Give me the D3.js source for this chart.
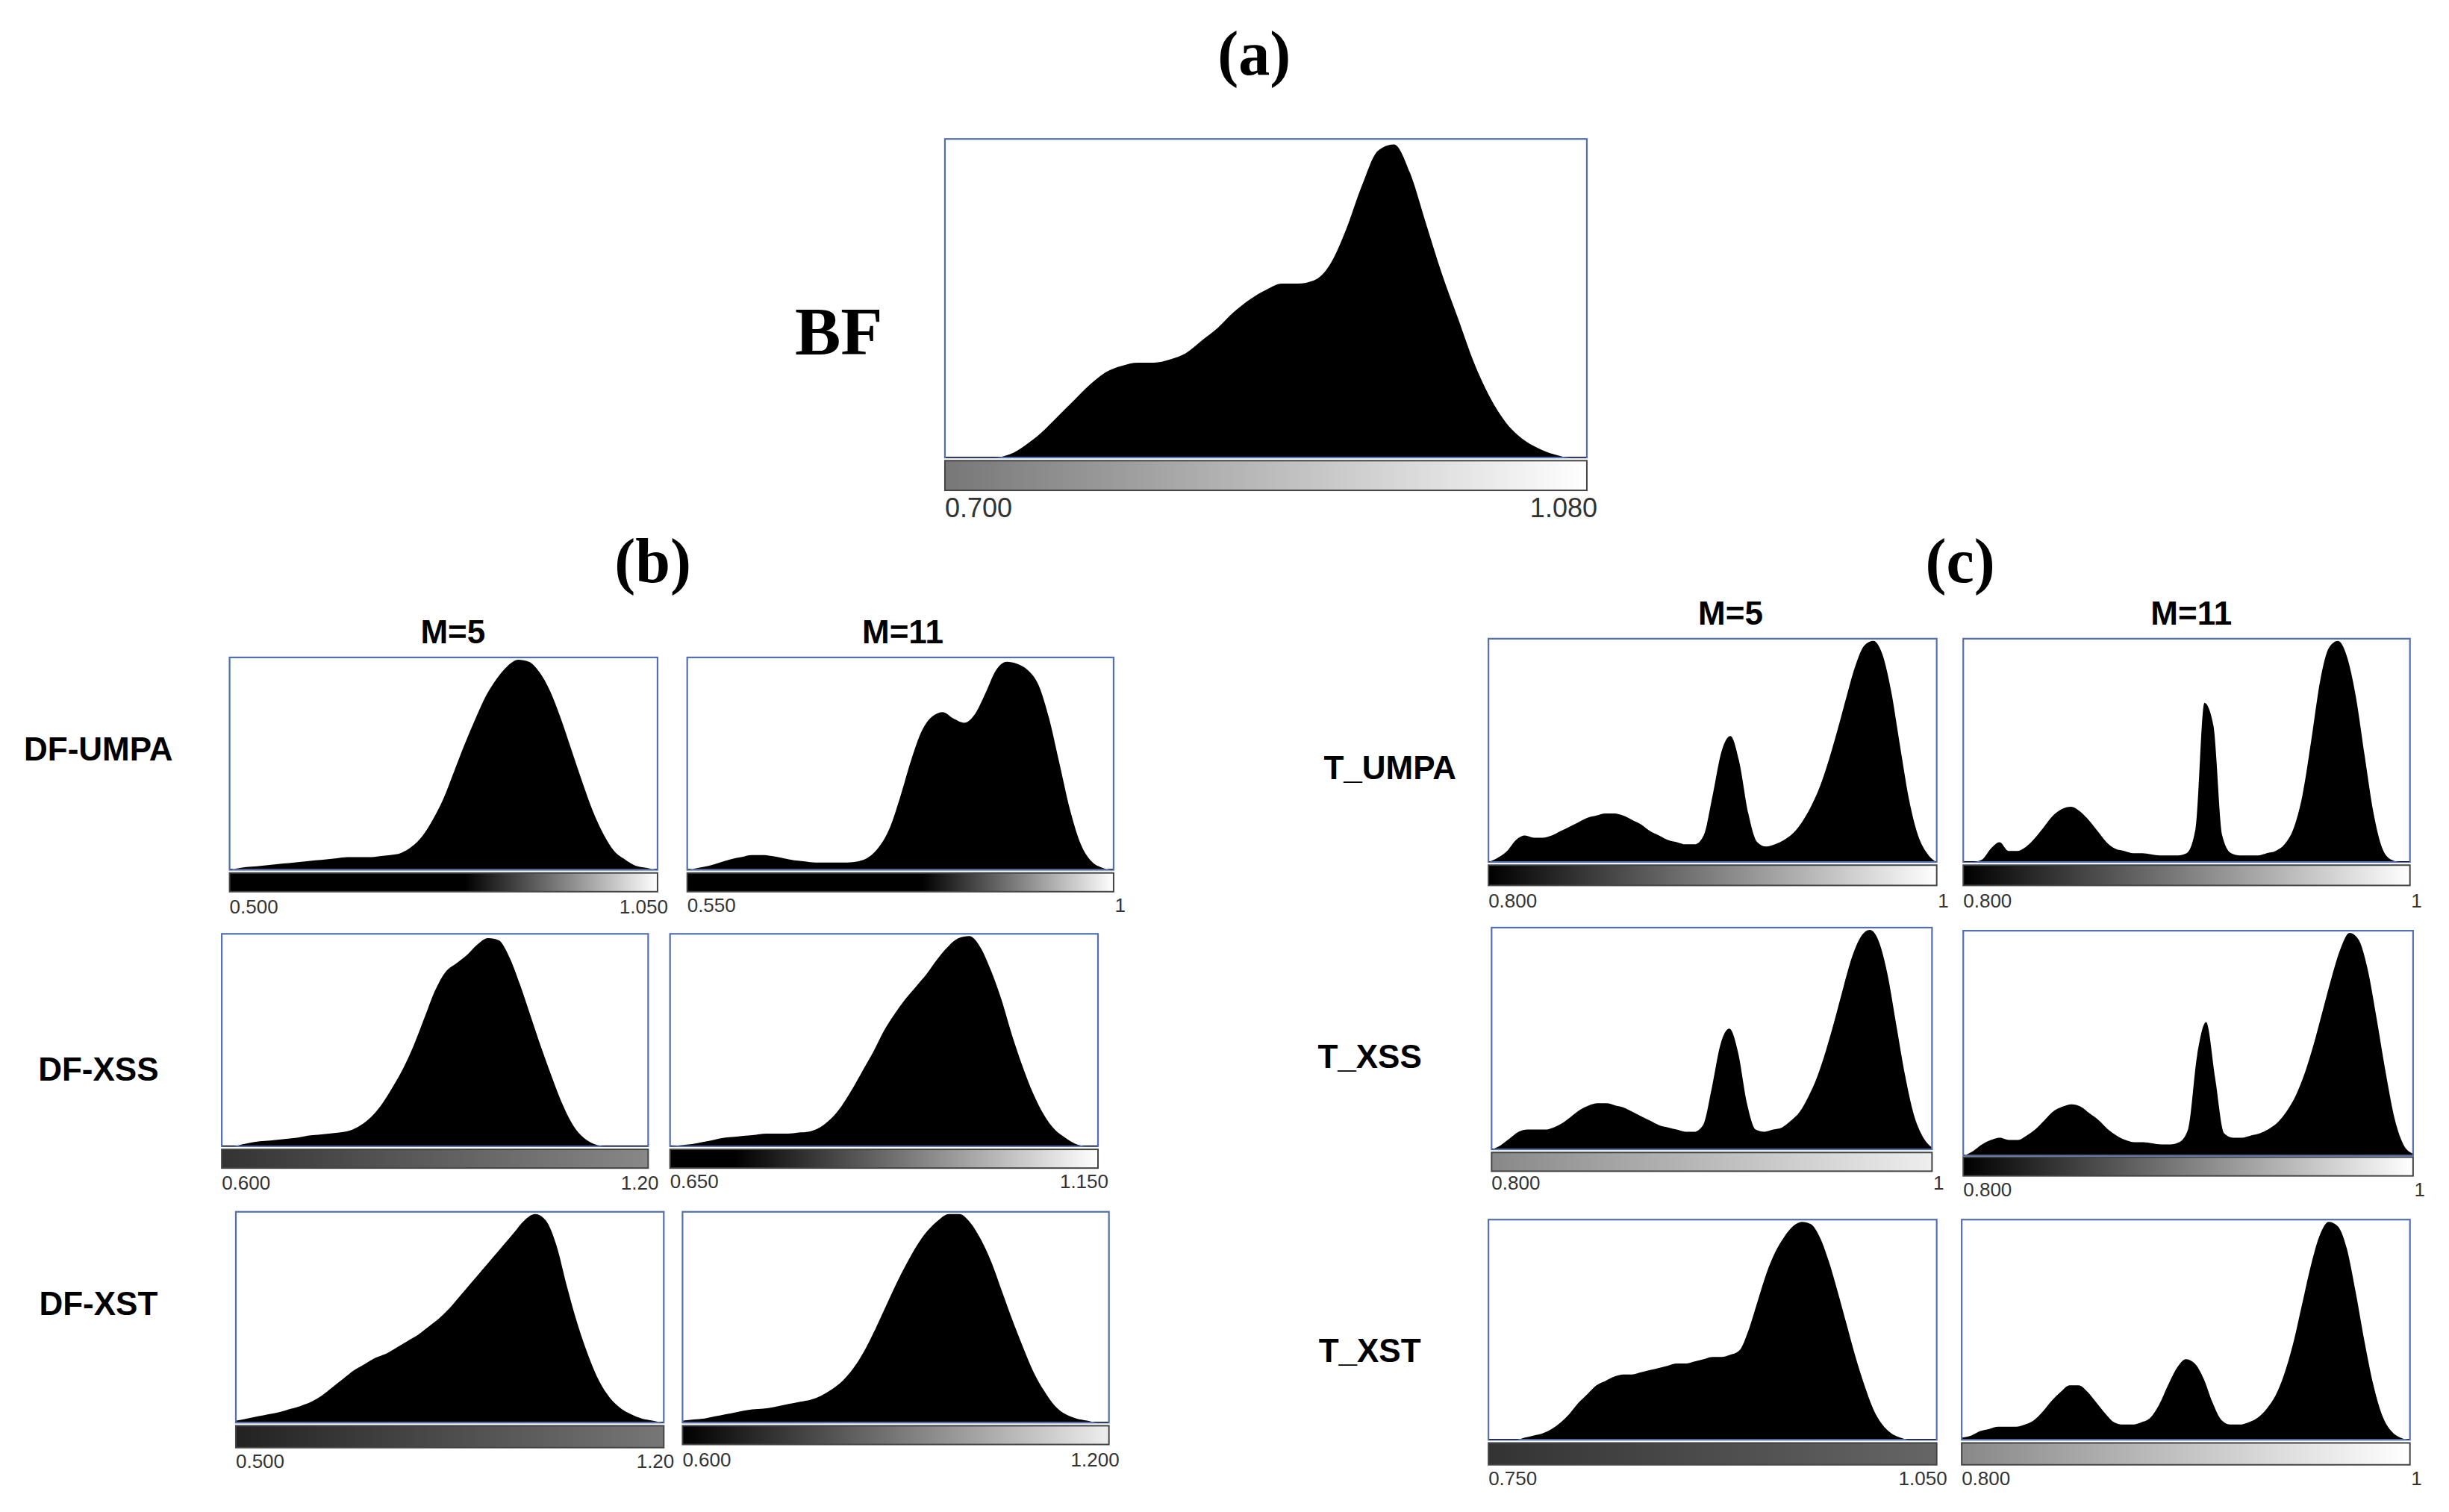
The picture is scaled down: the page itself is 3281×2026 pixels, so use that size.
<!DOCTYPE html>
<html><head><meta charset="utf-8">
<script src="https://cdn.jsdelivr.net/npm/d3@7"></script>
<style>body{margin:0;background:#fff}</style></head>
<body><svg id="c" width="3281" height="2026"></svg>
<script>
// ---- data (normalized histogram heights, evenly spaced across each colour range) ----
const bf = [0,0,0,0,.01,.04,.08,.13,.18,.23,.27,.29,.3,.3,.31,.33,.37,.41,.46,.5,.53,.55,.55,.56,.61,.72,.86,.97,.99,.9,.74,.58,.44,.3,.19,.11,.06,.03,.01,0,0];
const dfUmpa5 = [0,.01,.015,.02,.025,.03,.035,.04,.045,.05,.055,.06,.06,.06,.065,.07,.08,.11,.16,.24,.34,.47,.6,.72,.83,.91,.97,1,.99,.94,.85,.72,.57,.42,.28,.17,.09,.05,.02,.01,0];
const dfUmpa11 = [0,.01,.02,.035,.05,.06,.07,.07,.065,.055,.045,.04,.035,.035,.035,.035,.04,.06,.11,.2,.35,.52,.66,.73,.75,.72,.7,.74,.84,.95,.99,.98,.95,.88,.72,.5,.28,.12,.04,.01,0];
const dfXss5 = [0,0,.01,.02,.025,.03,.035,.04,.05,.055,.06,.065,.075,.1,.14,.2,.28,.37,.48,.61,.74,.83,.87,.91,.96,.99,.98,.9,.77,.62,.47,.33,.2,.1,.04,.01,0,0,0,0,0];
const dfXss11 = [0,.005,.01,.02,.03,.04,.045,.05,.055,.06,.06,.06,.065,.07,.09,.13,.19,.27,.36,.45,.55,.63,.7,.76,.82,.89,.95,.99,1,.95,.84,.7,.53,.38,.25,.15,.08,.04,.01,0,0];
const dfXst5 = [.01,.02,.03,.04,.05,.065,.08,.1,.13,.17,.21,.25,.28,.31,.33,.36,.39,.42,.46,.5,.55,.61,.67,.73,.79,.85,.91,.97,1,.97,.85,.65,.47,.32,.2,.12,.07,.04,.02,.01,0];
const dfXst11 = [.01,.015,.02,.03,.04,.05,.06,.065,.07,.08,.09,.1,.11,.13,.16,.2,.26,.34,.44,.55,.66,.76,.85,.92,.97,1,1,.96,.88,.77,.63,.49,.36,.24,.15,.08,.04,.02,.01,0,0];
const tUmpa5 = [0,.02,.05,.1,.12,.11,.11,.12,.14,.16,.18,.2,.21,.22,.22,.21,.19,.17,.14,.12,.1,.09,.08,.08,.12,.3,.5,.57,.45,.22,.09,.07,.08,.1,.13,.18,.25,.34,.46,.6,.75,.89,.98,1,.94,.77,.52,.28,.12,.04,0];
const tUmpa11 = [0,0,.01,.06,.09,.05,.05,.07,.11,.16,.21,.24,.25,.23,.19,.14,.09,.06,.05,.04,.04,.035,.03,.03,.03,.04,.15,.72,.62,.12,.04,.03,.03,.03,.04,.05,.08,.15,.3,.55,.82,.97,1,.93,.75,.48,.22,.06,.01,0,0];
const tXss5 = [0,.02,.05,.08,.09,.09,.09,.1,.12,.15,.18,.2,.21,.21,.2,.19,.17,.15,.13,.11,.1,.09,.08,.08,.11,.28,.48,.55,.44,.21,.09,.08,.09,.1,.13,.17,.24,.33,.45,.59,.74,.88,.97,1,.95,.8,.57,.34,.16,.06,.01];
const tXss11 = [0,.02,.05,.07,.08,.07,.07,.09,.12,.16,.2,.22,.23,.22,.19,.16,.12,.09,.07,.06,.06,.055,.05,.05,.06,.12,.45,.6,.35,.1,.08,.08,.09,.1,.12,.15,.2,.27,.37,.5,.65,.8,.93,1,.97,.84,.62,.38,.17,.05,.01];
const tXst5 = [0,0,0,0,.01,.02,.03,.05,.08,.12,.17,.21,.25,.27,.29,.3,.3,.31,.32,.33,.34,.35,.35,.36,.37,.38,.38,.39,.41,.5,.63,.76,.86,.93,.98,1,.99,.93,.82,.68,.53,.38,.25,.14,.07,.03,.01,0,0,0,0];
const tXst11 = [.01,.02,.04,.05,.06,.06,.06,.07,.09,.13,.18,.22,.25,.25,.22,.17,.12,.08,.07,.07,.08,.1,.16,.25,.33,.37,.35,.28,.17,.09,.07,.07,.08,.1,.14,.2,.3,.44,.62,.8,.94,1,.98,.88,.68,.45,.25,.11,.04,.01,0];

const titles = ["(a)","(b)","(c)"];
const rowLabelsB = ["DF-UMPA","DF-XSS","DF-XST"];
const rowLabelsC = ["T_UMPA","T_XSS","T_XST"];
const colLabels = ["M=5","M=11"];
const tickLabels = {
  bf:["0.700","1.080"], dfUmpa5:["0.500","1.050"], dfUmpa11:["0.550","1"],
  dfXss5:["0.600","1.20"], dfXss11:["0.650","1.150"], dfXst5:["0.500","1.20"], dfXst11:["0.600","1.200"],
  tUmpa5:["0.800","1"], tUmpa11:["0.800","1"], tXss5:["0.800","1"], tXss11:["0.800","1"],
  tXst5:["0.750","1.050"], tXst11:["0.800","1"]
};
const series = {bf,dfUmpa5,dfUmpa11,dfXss5,dfXss11,dfXst5,dfXst11,tUmpa5,tUmpa11,tXss5,tXss11,tXst5,tXst11};

// ---- layout (reference display coords, scaled) ----
const S = 3281/1568;
const panels = [
 {k:"bf", b:[605,1016,89,293], bar:[295,314], ly:331, g:[[0,"#777"],[1,"#fff"]]},
 {k:"dfUmpa5", b:[147,421,421,557], bar:[559,571], ly:585, g:[[0,"#000"],[.55,"#000"],[1,"#fff"]]},
 {k:"dfUmpa11", b:[440,713,421,557], bar:[559,571], ly:584, g:[[0,"#000"],[.55,"#000"],[1,"#fff"]]},
 {k:"dfXss5", b:[142,415,598,734], bar:[736,748], ly:762, g:[[0,"#333"],[1,"#888"]]},
 {k:"dfXss11", b:[429,703,598,734], bar:[736,748], ly:761, g:[[0,"#000"],[.15,"#000"],[1,"#fff"]]},
 {k:"dfXst5", b:[151,425,776,911], bar:[913,927], ly:940, g:[[0,"#222"],[1,"#777"]]},
 {k:"dfXst11", b:[437,710,776,911], bar:[913,925], ly:939, g:[[0,"#000"],[1,"#eee"]]},
 {k:"tUmpa5", b:[953,1240,409,552], bar:[554,567], ly:581, g:[[0,"#000"],[1,"#fff"]]},
 {k:"tUmpa11", b:[1257,1543,409,552], bar:[554,567], ly:581, g:[[0,"#000"],[1,"#fff"]]},
 {k:"tXss5", b:[955,1237,594,736], bar:[738,750], ly:762, g:[[0,"#888"],[1,"#eee"]]},
 {k:"tXss11", b:[1257,1545,596,740], bar:[741,753], ly:766, g:[[0,"#000"],[1,"#fff"]]},
 {k:"tXst5", b:[953,1240,781,922], bar:[924,938], ly:951, g:[[0,"#333"],[1,"#666"]]},
 {k:"tXst11", b:[1256,1543,781,922], bar:[924,938], ly:951, g:[[0,"#888"],[1,"#fff"]]}
];
const svg = d3.select("#c");
const defs = svg.append("defs");
panels.forEach((p,i)=>{
  const [x0,x1,y0,y1] = p.b.map(v=>v*S);
  const data = series[p.k];
  const x = d3.scaleLinear().domain([0,data.length-1]).range([x0+1,x1-1]);
  const y = d3.scaleLinear().domain([0,1]).range([y1,y0+3]);
  svg.append("rect").attr("x",x0).attr("y",y0).attr("width",x1-x0).attr("height",y1-y0)
     .attr("fill","#fff").attr("stroke","#5270b0").attr("stroke-width",2.2);
  svg.append("path").datum(data)
     .attr("d",d3.area().x((d,j)=>x(j)).y0(y1-1).y1(d=>y(d)).curve(d3.curveMonotoneX))
     .attr("fill","#000");
  const gid="g"+i;
  const lg = defs.append("linearGradient").attr("id",gid);
  p.g.forEach(s=>lg.append("stop").attr("offset",s[0]).attr("stop-color",s[1]));
  svg.append("rect").attr("x",x0).attr("y",p.bar[0]*S).attr("width",x1-x0).attr("height",(p.bar[1]-p.bar[0])*S)
     .attr("fill",`url(#${gid})`).attr("stroke","#444").attr("stroke-width",2);
  const tl = tickLabels[p.k];
  const fs = p.k==="bf"?36:26;
  svg.append("text").attr("x",x0).attr("y",p.ly*S).text(tl[0])
     .attr("font-family","Arial, Liberation Sans").attr("font-size",fs).attr("fill","#333");
  svg.append("text").attr("x",x1+(tl[1].length===1?16:14)).attr("y",p.ly*S).attr("text-anchor","end").text(tl[1])
     .attr("font-family","Arial, Liberation Sans").attr("font-size",fs).attr("fill","#333");
});
const serif = "Times New Roman, Liberation Serif, serif";
[[803,48],[418,373],[1255,373]].forEach((t,i)=>{
  svg.append("text").attr("x",t[0]*S).attr("y",t[1]*S).attr("text-anchor","middle").text(titles[i])
     .attr("font-family",serif).attr("font-weight","bold").attr("font-size",84);
});
svg.append("text").attr("x",537*S).attr("y",227*S).attr("text-anchor","middle").text("BF")
   .attr("font-family",serif).attr("font-weight","bold").attr("font-size",92);
const sans = "Arial, Liberation Sans, sans-serif";
[[290,412],[578,412],[1108,400],[1403,400]].forEach((t,i)=>{
  svg.append("text").attr("x",t[0]*S).attr("y",t[1]*S).attr("text-anchor","middle").text(colLabels[i%2])
     .attr("font-family",sans).attr("font-weight","bold").attr("font-size",44);
});
[[63,487],[63,692],[63,842]].forEach((t,i)=>{
  svg.append("text").attr("x",t[0]*S).attr("y",t[1]*S).attr("text-anchor","middle").text(rowLabelsB[i])
     .attr("font-family",sans).attr("font-weight","bold").attr("font-size",44);
});
[[890,499],[877,684],[877,872]].forEach((t,i)=>{
  svg.append("text").attr("x",t[0]*S).attr("y",t[1]*S).attr("text-anchor","middle").text(rowLabelsC[i])
     .attr("font-family",sans).attr("font-weight","bold").attr("font-size",44);
});
</script></body></html>
